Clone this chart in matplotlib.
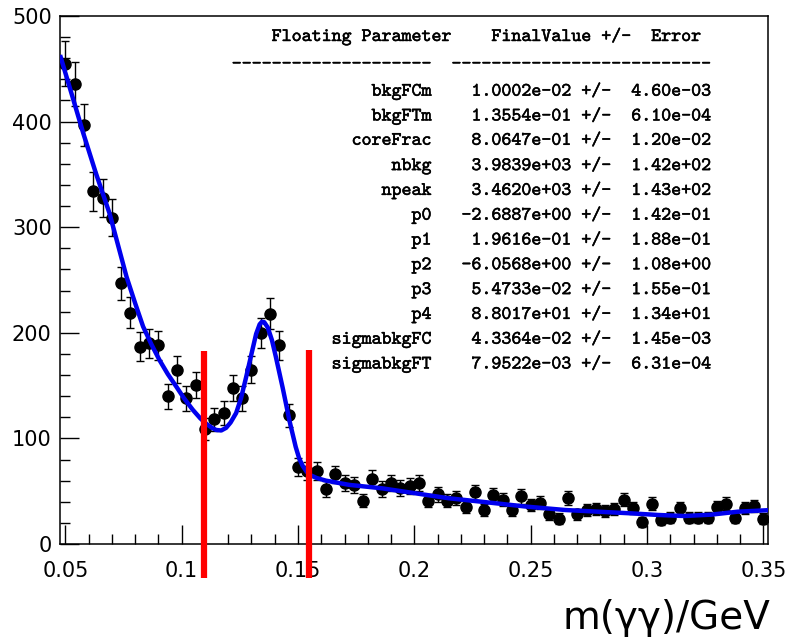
import numpy as np
import matplotlib
matplotlib.use("Agg")
import matplotlib.pyplot as plt
import matplotlib.patheffects as pe
from matplotlib.ticker import MultipleLocator

# histogram binning of m(gamma gamma)
x_lo, x_hi, n_bins = 0.048, 0.352, 76

# event counts per bin
counts = [455, 436, 397, 334, 328, 309, 247, 219, 187, 190,
          188, 140, 165, 138, 151, 109, 118, 124, 148, 138,
          165, 200, 218, 188, 122, 73, 69, 69, 52, 66,
          58, 56, 41, 62, 52, 58, 53, 55, 58, 41,
          47, 41, 44, 35, 49, 32, 46, 42, 32, 45,
          37, 39, 28, 24, 44, 28, 32, 33, 31, 33,
          42, 34, 21, 38, 23, 25, 34, 25, 25, 25,
          35, 38, 25, 34, 36, 24]

# fitted model curve
fit_x = [0.048, 0.053, 0.0577, 0.063, 0.069, 0.0735, 0.0763, 0.080, 0.0834,
         0.087, 0.0905, 0.094, 0.0977, 0.101, 0.1048, 0.108, 0.1105, 0.113,
         0.1148, 0.117, 0.1191, 0.121, 0.1234, 0.1255, 0.1277, 0.130, 0.132,
         0.1335, 0.1345, 0.1355, 0.137, 0.1388, 0.1405, 0.142, 0.1434, 0.145,
         0.1463, 0.1477, 0.149, 0.1505, 0.152, 0.1537, 0.1555, 0.158, 0.162,
         0.172, 0.1862, 0.2005, 0.2148, 0.229, 0.2477, 0.2648, 0.279, 0.2934,
         0.3047, 0.316, 0.3276, 0.339, 0.352]
fit_y = [461, 424, 389, 352, 313, 276, 253, 228, 206,
         189, 174, 161, 149, 138, 127, 119, 114, 110,
         108, 107.5, 110, 115, 124, 138, 158, 180, 199,
         208, 210.5, 210, 205, 193, 177, 162, 148, 131,
         117, 104, 92, 81, 74, 68.5, 65, 62.5, 60,
         56, 52.7, 48, 43.3, 40, 35.5, 32.2, 30.6, 29,
         27.5, 26.5, 27.8, 30.6, 32]

# signal window cuts
cut_x = [0.1098, 0.1546]
cut_top = [183, 184]

# fit result table
par_names = ["bkgFCm", "bkgFTm", "coreFrac", "nbkg", "npeak", "p0", "p1", "p2",
             "p3", "p4", "sigmabkgFC", "sigmabkgFT"]
par_values = ["1.0002e-02", "1.3554e-01", "8.0647e-01", "3.9839e+03", "3.4620e+03",
              "-2.6887e+00", "1.9616e-01", "-6.0568e+00", "5.4733e-02", "8.8017e+01",
              "4.3364e-02", "7.9522e-03"]
par_errors = ["4.60e-03", "6.10e-04", "1.20e-02", "1.42e+02", "1.43e+02", "1.42e-01",
              "1.88e-01", "1.08e+00", "1.55e-01", "1.34e+01", "1.45e-03", "6.31e-04"]

edges = np.linspace(x_lo, x_hi, n_bins + 1)
centers = 0.5 * (edges[:-1] + edges[1:])
counts = np.array(counts, dtype=float)
errors = np.sqrt(counts)

W, H = 786, 642
fig = plt.figure(figsize=(W / 100, H / 100), dpi=100)
ax = fig.add_axes([60 / W, 1 - 544 / H, 708 / W, 528 / H])

ax.errorbar(centers, counts, yerr=errors, fmt="o", color="black", ms=8,
            elinewidth=1.0, capsize=3, capthick=1.0, zorder=3)
ax.plot(fit_x, fit_y, color="#0000ee", lw=3.2, zorder=4, solid_joinstyle="round")
for cx, ct in zip(cut_x, cut_top):
    ax.plot([cx, cx], [-32, ct], color="#ff0000", lw=4.5, clip_on=False,
            solid_capstyle="butt", zorder=5)

ax.set_xlim(x_lo - 0.0003, x_hi)
ax.set_ylim(0, 500)
ax.xaxis.set_minor_locator(MultipleLocator(0.01))
ax.yaxis.set_major_locator(MultipleLocator(100))
ax.yaxis.set_minor_locator(MultipleLocator(20))
ax.set_xticks([0.05, 0.1, 0.15, 0.2, 0.25, 0.3, 0.35])
ax.set_xticklabels(["0.05", "0.1", "0.15", "0.2", "0.25", "0.3", "0.35"])
ax.tick_params(which="both", direction="in", top=False, right=False,
               labelsize=15, width=1.0)
ax.tick_params(which="major", length=14)
ax.tick_params(which="minor", length=7)
ax.tick_params(axis="x", pad=12)
ax.tick_params(axis="y", pad=6)
for s in ax.spines.values():
    s.set_linewidth(1.1)

fig.text(770 / W, 1 - 618 / H, "m(γγ)/GeV", ha="right", va="center",
         fontsize=28, family="DejaVu Sans")

# parameter box in typewriter font
bold = [pe.withStroke(linewidth=0.35, foreground="black")]
tt = dict(family="cmtt10", fontsize=13.7, va="center", ha="left", path_effects=bold)
x0 = 231.7 / W
fig.text(x0, 1 - 37 / H, "    Floating Parameter    FinalValue +/-  Error", **tt)
fig.text(x0, 1 - 65 / H, "-" * 20 + "  " + "-" * 26, **tt)
for k, (n, v, e) in enumerate(zip(par_names, par_values, par_errors)):
    line = "%20s  %12s +/-  %8s" % (n, v, e)
    fig.text(x0, 1 - (91.7 + 24.8 * k) / H, line, **tt)

fig.savefig("out.png", dpi=100)
